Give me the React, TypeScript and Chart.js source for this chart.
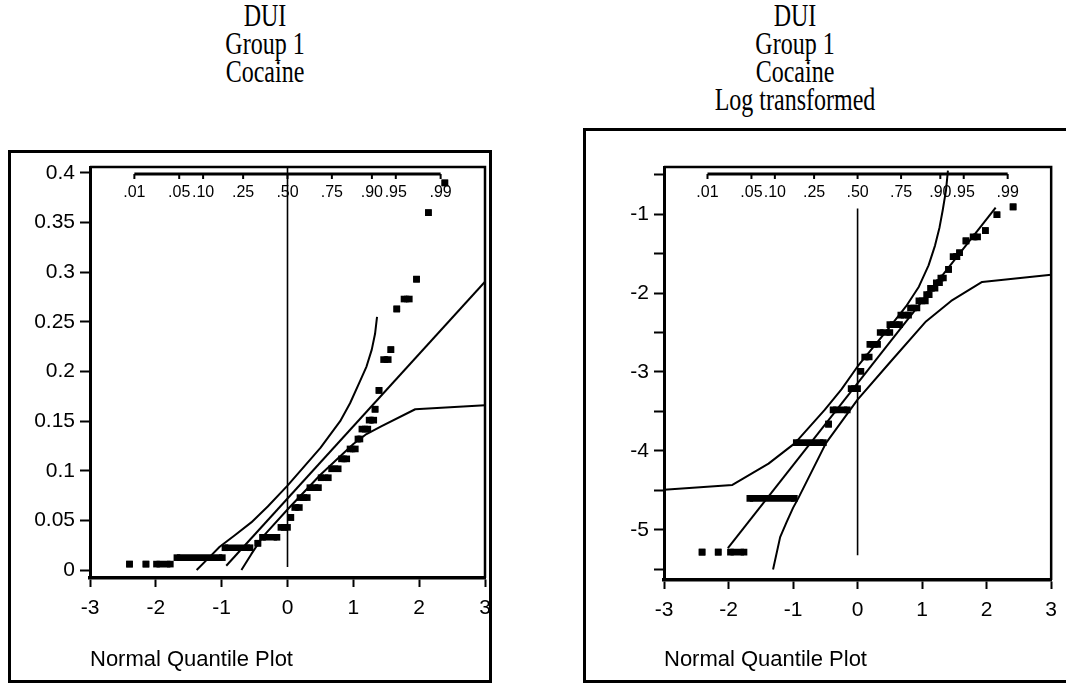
import React, { useEffect, useRef } from 'react';
import { Chart, registerables } from 'chart.js';

Chart.register(...registerables);

// ---------- shared axis data ----------
const X_TICKS = [-3, -2, -1, 0, 1, 2, 3];
const QUANTILE_LABELS = ['.01', '.05', '.10', '.25', '.50', '.75', '.90', '.95', '.99'];
const QUANTILE_Z = [-2.326, -1.645, -1.282, -0.674, 0, 0.674, 1.282, 1.645, 2.326];

const TITLE_LEFT = ['DUI', 'Group 1', 'Cocaine'];
const TITLE_RIGHT = ['DUI', 'Group 1', 'Cocaine', 'Log transformed'];
const X_TITLE = 'Normal Quantile Plot';

// ---------- left panel: raw cocaine ----------
const RAW_Y_TICKS = [0, 0.05, 0.1, 0.15, 0.2, 0.25, 0.3, 0.35, 0.4];
const RAW_LEVELS = [0.006, 0.006, 0.006, 0.0125, 0.0225, 0.027, 0.033, 0.043, 0.053, 0.063, 0.073, 0.083, 0.093, 0.102, 0.112, 0.122, 0.132, 0.142, 0.151, 0.162, 0.181, 0.212, 0.222, 0.263, 0.273, 0.293, 0.36, 0.39];
const RAW_X_FROM = [-2.4, -2.15, -1.99, -1.68, -0.95, -0.45, -0.38, -0.1, 0.05, 0.11, 0.19, 0.34, 0.51, 0.67, 0.82, 0.95, 1.07, 1.13, 1.24, 1.33, 1.39, 1.46, 1.57, 1.66, 1.77, 1.96, 2.14, 2.39];
const RAW_X_TO = [-2.4, -2.15, -1.78, -0.99, -0.57, -0.45, -0.16, 0.0, 0.05, 0.18, 0.3, 0.47, 0.62, 0.77, 0.9, 1.03, 1.1, 1.22, 1.31, 1.33, 1.39, 1.53, 1.57, 1.66, 1.85, 1.96, 2.14, 2.39];
const RAW_REF_X = [-0.93, 3.0];
const RAW_REF_Y = [0.0043, 0.2904];
const RAW_UPPER_X = [-1.38, -1.2, -1.03, -0.8, -0.55, -0.3, 0, 0.5, 0.8, 0.95, 1.1, 1.2, 1.28, 1.33, 1.36];
const RAW_UPPER_Y = [0.0, 0.012, 0.0235, 0.035, 0.048, 0.064, 0.085, 0.123, 0.15, 0.168, 0.19, 0.205, 0.222, 0.238, 0.255];
const RAW_LOWER_X = [-0.7, -0.55, -0.37, 0, 0.5, 1.0, 1.2, 1.43, 1.94, 3.0];
const RAW_LOWER_Y = [0.0, 0.016, 0.034, 0.061, 0.096, 0.127, 0.137, 0.145, 0.162, 0.166];
const RAW_CENTER_Y = [0.003, 0.406];

// ---------- right panel: log transformed ----------
const LOG_Y_TICKS = [-5.5, -5, -4.5, -4, -3.5, -3, -2.5, -2, -1.5, -1, -0.5];
const LOG_LEVELS = [-5.28, -5.28, -5.28, -4.6, -3.894, -3.66, -3.48, -3.21, -2.99, -2.81, -2.65, -2.5, -2.4, -2.28, -2.19, -2.1, -2.02, -1.94, -1.87, -1.81, -1.7, -1.54, -1.49, -1.34, -1.29, -1.21, -1.01, -0.91];
const LOG_X_FROM = [-2.41, -2.16, -1.97, -1.67, -0.95, -0.45, -0.38, -0.1, 0.05, 0.11, 0.19, 0.35, 0.5, 0.67, 0.82, 0.95, 1.07, 1.13, 1.22, 1.29, 1.41, 1.48, 1.58, 1.68, 1.79, 1.98, 2.16, 2.41];
const LOG_X_TO = [-2.41, -2.16, -1.76, -0.98, -0.53, -0.45, -0.16, 0.0, 0.05, 0.18, 0.31, 0.5, 0.65, 0.79, 0.92, 1.05, 1.11, 1.2, 1.27, 1.33, 1.41, 1.54, 1.58, 1.68, 1.86, 1.98, 2.16, 2.41];
const LOG_REF_X = [-2.01, 2.14];
const LOG_REF_Y = [-5.23, -0.92];
const LOG_UPPER_X = [-3.0, -1.94, -1.38, -0.97, -0.51, -0.25, 0, 0.5, 0.75, 0.95, 1.1, 1.2, 1.27, 1.32, 1.37, 1.4];
const LOG_UPPER_Y = [-4.49, -4.43, -4.16, -3.9, -3.48, -3.22, -2.93, -2.43, -2.17, -1.92, -1.65, -1.4, -1.17, -0.95, -0.7, -0.45];
const LOG_LOWER_X = [-1.31, -1.2, -1.1, -1.0, -0.92, -0.49, 0, 0.5, 1.06, 1.45, 1.93, 3.0];
const LOG_LOWER_Y = [-5.5, -5.09, -4.9, -4.72, -4.6, -3.9, -3.35, -2.88, -2.36, -2.1, -1.86, -1.77];
const LOG_CENTER_Y = [-5.32, -0.93];

const SANS = '"Liberation Sans", Arial, Helvetica, sans-serif';
const SERIF = '"Liberation Serif", "Times New Roman", serif';

function zip(xs: number[], ys: number[]) {
  return xs.map((x, i) => ({ x, y: ys[i] }));
}

function groupPoints(levels: number[], from: number[], to: number[]) {
  const out: { x: number; y: number | null }[] = [];
  levels.forEach((y, i) => {
    out.push({ x: from[i], y });
    out.push({ x: to[i], y });
    out.push({ x: to[i], y: null });
  });
  return out;
}

const quantileAxisPlugin = {
  id: 'quantileAxis',
  afterDraw(chart: any) {
    const { ctx, chartArea, scales } = chart;
    const xs = scales.x;
    ctx.save();
    ctx.strokeStyle = '#000';
    ctx.fillStyle = '#000';
    // top & right border of plot frame
    ctx.lineWidth = 2.5;
    ctx.beginPath();
    ctx.moveTo(chartArea.left, chartArea.top);
    ctx.lineTo(chartArea.right, chartArea.top);
    ctx.lineTo(chartArea.right, chartArea.bottom);
    ctx.stroke();
    // quantile axis
    const y = chartArea.top + 7;
    const xa = xs.getPixelForValue(QUANTILE_Z[0]);
    const xb = xs.getPixelForValue(QUANTILE_Z[QUANTILE_Z.length - 1]);
    ctx.lineWidth = 3;
    ctx.beginPath();
    ctx.moveTo(xa, y);
    ctx.lineTo(xb, y);
    ctx.stroke();
    ctx.lineWidth = 2;
    ctx.font = '16px ' + SANS;
    ctx.textAlign = 'center';
    ctx.textBaseline = 'middle';
    QUANTILE_Z.forEach((z, i) => {
      const px = xs.getPixelForValue(z);
      ctx.beginPath();
      ctx.moveTo(px, y);
      ctx.lineTo(px, y + 5);
      ctx.stroke();
      ctx.fillText(QUANTILE_LABELS[i], px, y + 19);
    });
    ctx.restore();
  },
};

type PanelCfg = {
  yTicks: number[];
  yMin: number;
  yMax: number;
  labelFn: (v: number) => string;
  levels: number[];
  from: number[];
  to: number[];
  refX: number[];
  refY: number[];
  upX: number[];
  upY: number[];
  loX: number[];
  loY: number[];
  centerY: number[];
  yAxisWidth: number;
  xAxisHeight: number;
  padRight: number;
};

function Panel(props: { cfg: PanelCfg; left: number; top: number; width: number; height: number }) {
  const ref = useRef<HTMLCanvasElement | null>(null);
  const { cfg } = props;
  useEffect(() => {
    if (!ref.current) return;
    const lineStyle = {
      showLine: true,
      borderColor: '#000',
      borderWidth: 2,
      pointRadius: 0,
      fill: false,
      tension: 0,
      borderJoinStyle: 'round' as const,
    };
    const chart = new Chart(ref.current, {
      type: 'scatter',
      data: {
        datasets: [
          { ...lineStyle, data: zip(cfg.upX, cfg.upY) },
          { ...lineStyle, data: zip(cfg.loX, cfg.loY) },
          { ...lineStyle, data: zip(cfg.refX, cfg.refY) },
          { ...lineStyle, borderWidth: 1.6, data: [{ x: 0, y: cfg.centerY[0] }, { x: 0, y: cfg.centerY[1] }] },
          {
            data: groupPoints(cfg.levels, cfg.from, cfg.to),
            showLine: true,
            spanGaps: false,
            borderColor: '#000',
            borderWidth: 6.6,
            borderCapStyle: 'butt',
            pointStyle: 'rect',
            pointRadius: 4.7,
            pointBorderWidth: 0,
            pointBackgroundColor: '#000',
            pointBorderColor: '#000',
          } as any,
        ],
      },
      options: {
        animation: false,
        responsive: false,
        maintainAspectRatio: false,
        devicePixelRatio: 1,
        layout: { padding: { top: 27, right: cfg.padRight, left: 0, bottom: 0 } },
        plugins: { legend: { display: false }, tooltip: { enabled: false } },
        events: [],
        scales: {
          x: {
            type: 'linear',
            min: -3,
            max: 3,
            afterBuildTicks: (s: any) => {
              s.ticks = X_TICKS.map((v) => ({ value: v }));
            },
            afterFit: (s: any) => {
              s.height = cfg.xAxisHeight;
            },
            ticks: {
              color: '#000',
              font: { family: SANS, size: 21 },
              padding: 9,
              callback: (v: any) => String(v),
            },
            grid: { display: true, drawOnChartArea: false, drawTicks: true, tickLength: 9, tickColor: '#000', tickWidth: 2, color: '#000' },
            border: { display: true, color: '#000', width: 3.5 },
            title: {
              display: true,
              text: X_TITLE,
              align: 'start',
              color: '#000',
              font: { family: SANS, size: 22 },
              padding: { top: 0, bottom: 12 },
            },
          },
          y: {
            type: 'linear',
            min: cfg.yMin,
            max: cfg.yMax,
            afterBuildTicks: (s: any) => {
              s.ticks = cfg.yTicks.map((v) => ({ value: v }));
            },
            afterFit: (s: any) => {
              s.width = cfg.yAxisWidth;
            },
            ticks: {
              color: '#000',
              font: { family: SANS, size: 21 },
              padding: 5,
              callback: (v: any) => cfg.labelFn(Number(v)),
            },
            grid: { display: true, drawOnChartArea: false, drawTicks: true, tickLength: 10, tickColor: '#000', tickWidth: 2, color: '#000' },
            border: { display: true, color: '#000', width: 3 },
          },
        },
      } as any,
      plugins: [quantileAxisPlugin],
    });
    return () => chart.destroy();
  }, []);
  return (
    <canvas
      ref={ref}
      width={props.width}
      height={props.height}
      style={{ position: 'absolute', left: props.left, top: props.top, width: props.width, height: props.height }}
    />
  );
}

const LEFT_CFG: PanelCfg = {
  yTicks: RAW_Y_TICKS,
  yMin: -0.008,
  yMax: 0.406,
  labelFn: (v) => String(Number(v.toFixed(3))),
  levels: RAW_LEVELS,
  from: RAW_X_FROM,
  to: RAW_X_TO,
  refX: RAW_REF_X,
  refY: RAW_REF_Y,
  upX: RAW_UPPER_X,
  upY: RAW_UPPER_Y,
  loX: RAW_LOWER_X,
  loY: RAW_LOWER_Y,
  centerY: RAW_CENTER_Y,
  yAxisWidth: 90,
  xAxisHeight: 107,
  padRight: 15,
};

const RIGHT_CFG: PanelCfg = {
  yTicks: LOG_Y_TICKS,
  yMin: -5.633,
  yMax: -0.405,
  labelFn: (v) => (Number.isInteger(v) ? String(v) : ''),
  levels: LOG_LEVELS,
  from: LOG_X_FROM,
  to: LOG_X_TO,
  refX: LOG_REF_X,
  refY: LOG_REF_Y,
  upX: LOG_UPPER_X,
  upY: LOG_UPPER_Y,
  loX: LOG_LOWER_X,
  loY: LOG_LOWER_Y,
  centerY: LOG_CENTER_Y,
  yAxisWidth: 104,
  xAxisHeight: 105,
  padRight: 9,
};

function Title(props: { lines: string[]; cx: number }) {
  return (
    <>
      {props.lines.map((t, i) => (
        <div
          key={i}
          style={{
            position: 'absolute',
            left: props.cx - 200,
            width: 400,
            top: 2 + i * 28,
            height: 28,
            lineHeight: '28px',
            textAlign: 'center',
            fontFamily: SERIF,
            fontSize: 24,
            color: '#000',
            whiteSpace: 'nowrap',
            transform: 'scaleY(1.3)',
            transformOrigin: 'center center',
          }}
        >
          {t}
        </div>
      ))}
    </>
  );
}

export default function App() {
  return (
    <div style={{ position: 'absolute', left: 0, top: 0, width: 1066, height: 685, background: '#fff', overflow: 'hidden' }}>
      <Title lines={TITLE_LEFT} cx={265} />
      <Title lines={TITLE_RIGHT} cx={795} />
      <div style={{ position: 'absolute', left: 8, top: 150, width: 484, height: 533, border: '3px solid #000', boxSizing: 'border-box' }} />
      <div style={{ position: 'absolute', left: 583, top: 128, width: 500, height: 555, border: '3px solid #000', boxSizing: 'border-box' }} />
      <Panel cfg={LEFT_CFG} left={0} top={140} width={500} height={545} />
      <Panel cfg={RIGHT_CFG} left={560} top={140} width={506} height={545} />
    </div>
  );
}
